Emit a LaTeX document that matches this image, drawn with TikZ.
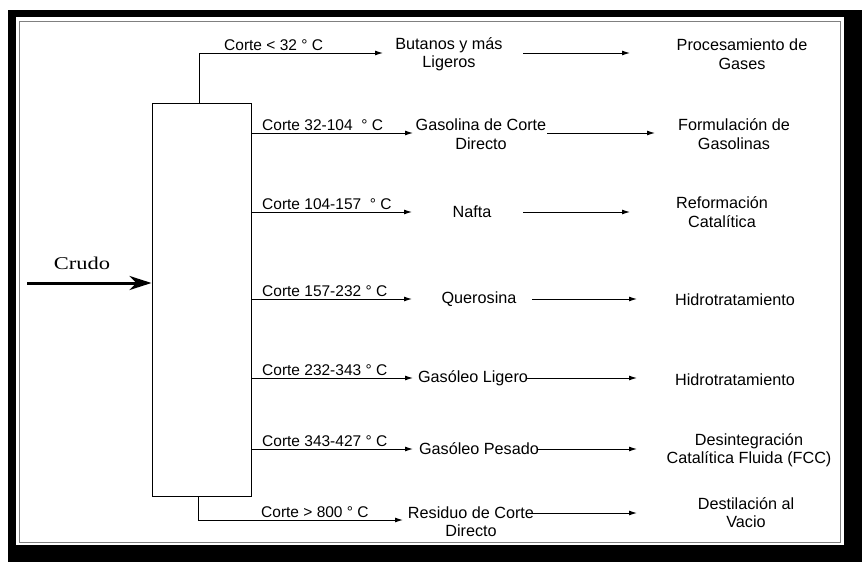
\documentclass[tikz,border=0pt]{standalone}
\usepackage{fontspec}
\setmainfont{Liberation Sans}
\newfontfamily\crudofont{Liberation Serif}
\usetikzlibrary{arrows.meta}
\begin{document}
\begin{tikzpicture}[x=1pt,y=-1pt,
  cutlbl/.style={font=\fontsize{15.5}{18}\selectfont, inner sep=0pt, anchor=base west},
  prod/.style={font=\fontsize{16.2}{18.5}\selectfont, inner sep=0pt, align=center},
  flow/.style={line width=1pt, -{Latex[length=8pt,width=5pt]}},
  wire/.style={line width=1pt}
]
\useasboundingbox (0,0) rectangle (863,562);
% frame
\fill[black] (8,10) rectangle (862,562);
\fill[white] (16,17) rectangle (844,545);
\draw[gray, line width=1pt] (19,21) rectangle (840,542);

% column
\node[draw, line width=1pt, minimum width=99pt, minimum height=393pt, inner sep=0pt] (col) at (201.5,299.5) {};

% feed
\coordinate (feed) at (27,283);
\node[font=\crudofont\fontsize{18}{20}\selectfont, inner sep=0pt] (crudo) at (82,263) {\scalebox{1.25}[1]{Crudo}};
\draw[line width=3pt, -{Stealth[length=22pt,width=14pt,inset=7pt]}] (feed) -- (col.west |- feed);

% products (middle column)
\node[prod] (p1) at (449,54) {Butanos y más\\Ligeros};
\node[prod] (p2) at (481,134) {Gasolina de Corte\\Directo};
\node[prod] (p3) at (472,212) {Nafta};
\node[prod] (p4) at (479,299) {Querosina};
\node[prod] (p5) at (473,378) {Gasóleo Ligero};
\node[prod] (p6) at (479,449) {Gasóleo Pesado};
\node[prod] (p7) at (471,521.5) {Residuo de Corte\\Directo};

% destinations (right column)
\node[prod] (d1) at (742,54) {Procesamiento de\\Gases};
\node[prod] (d2) at (734,134) {Formulación de\\Gasolinas};
\node[prod] (d3) at (722,212) {Reformación\\Catalítica};
\node[prod] (d4) at (735,300) {Hidrotratamiento};
\node[prod] (d5) at (735,380) {Hidrotratamiento};
\node[prod] (d6) at (749,450) {Desintegración\\Catalítica Fluida (FCC)};
\node[prod] (d7) at (746,512.5) {Destilación al\\Vacio};

% cut arrow ends
\coordinate (e1) at (383,53);
\coordinate (e2) at (413,133);
\coordinate (e3) at (412,212);
\coordinate (e4) at (412,299);
\coordinate (e5) at (413,378);
\coordinate (e6) at (413,449);
\coordinate (e7) at (403,520);
\coordinate (t1) at (199,53);
\coordinate (t7) at (198,520);

% top and bottom outlets
\draw[wire] (col.north -| t1) -- (t1);
\draw[flow] (t1) -- (e1);
\draw[wire] (col.south -| t7) -- (t7);
\draw[flow] (t7) -- (e7);
% side outlets
\draw[flow] (col.east |- e2) -- (e2);
\draw[flow] (col.east |- e3) -- (e3);
\draw[flow] (col.east |- e4) -- (e4);
\draw[flow] (col.east |- e5) -- (e5);
\draw[flow] (col.east |- e6) -- (e6);

% cut labels
\node[cutlbl] (c1) at (224,50) {Corte < 32 ° C};
\node[cutlbl] (c2) at (262,130) {Corte 32-104 \ ° C};
\node[cutlbl] (c3) at (262,209) {Corte 104-157 \ ° C};
\node[cutlbl] (c4) at (262,296) {Corte 157-232 ° C};
\node[cutlbl] (c5) at (262,375) {Corte 232-343 ° C};
\node[cutlbl] (c6) at (262,446) {Corte 343-427 ° C};
\node[cutlbl] (c7) at (261,517) {Corte > 800 ° C};

% second arrows
\coordinate (s1) at (523,53);   \coordinate (f1) at (630,53);
\coordinate (s2) at (547,133);  \coordinate (f2) at (655,133);
\coordinate (s3) at (523,212);  \coordinate (f3) at (630,212);
\coordinate (s4) at (532,299);  \coordinate (f4) at (637,299);
\coordinate (s5) at (527,378);  \coordinate (f5) at (637,378);
\coordinate (s6) at (538,449);  \coordinate (f6) at (637,449);
\coordinate (s7) at (533,513);  \coordinate (f7) at (637,513);
\draw[flow] (s1) -- (f1);
\draw[flow] (s2) -- (f2);
\draw[flow] (s3) -- (f3);
\draw[flow] (s4) -- (f4);
\draw[flow] (s5) -- (f5);
\draw[flow] (s6) -- (f6);
\draw[flow] (s7) -- (f7);
\end{tikzpicture}
\end{document}
